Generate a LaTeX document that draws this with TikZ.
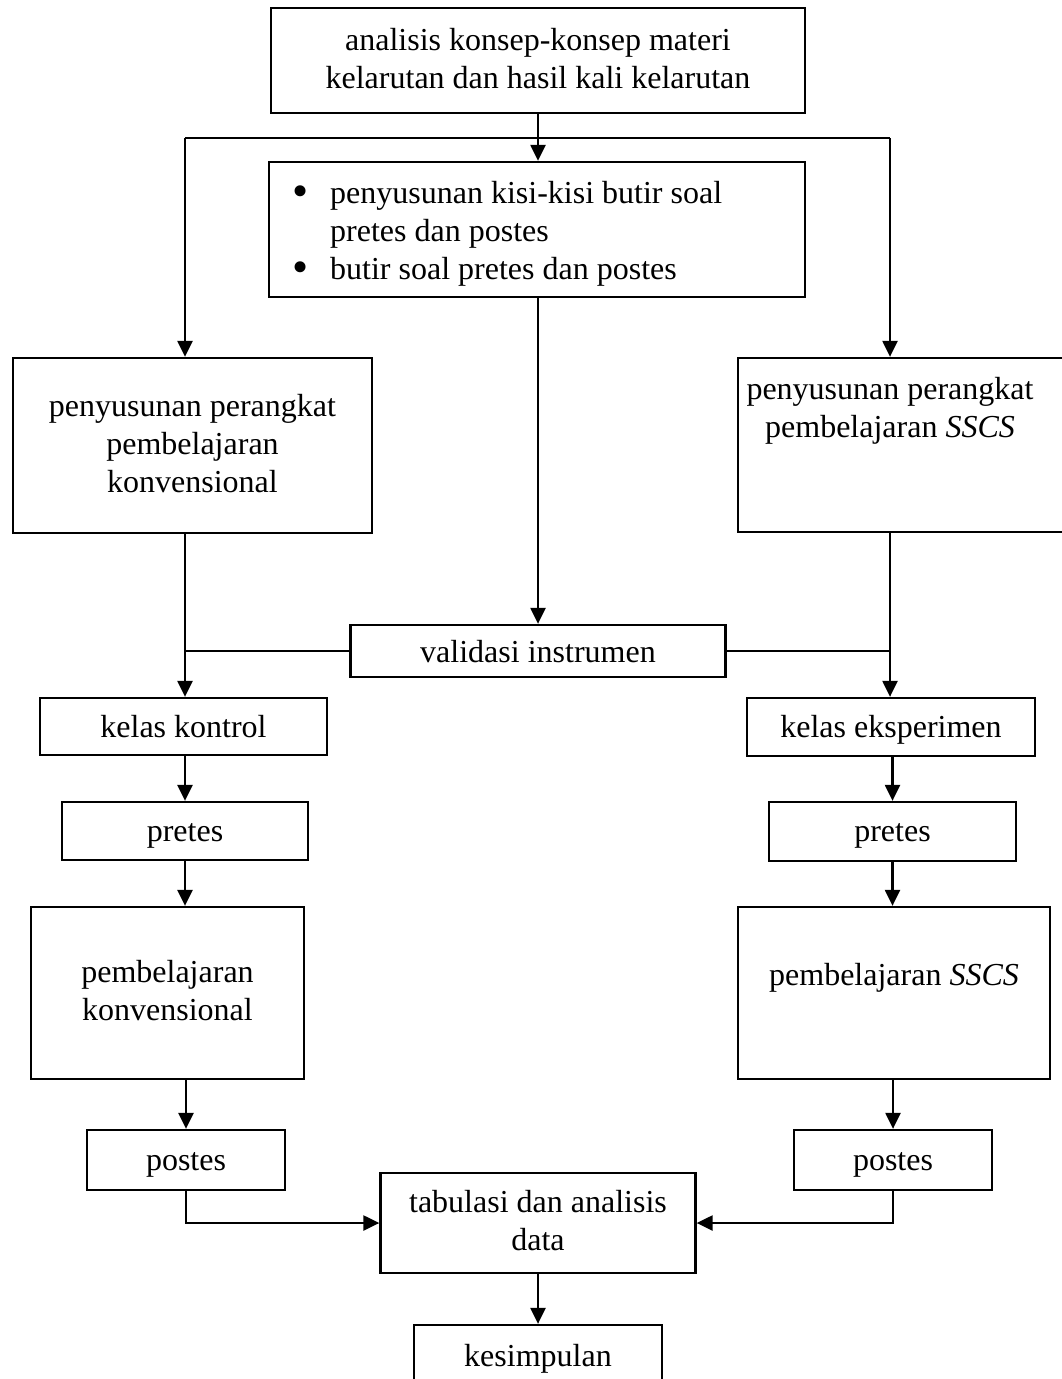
\documentclass[tikz,border=0pt]{standalone}
\usepackage{fontspec}
\setmainfont{Liberation Serif}
\usetikzlibrary{arrows.meta,calc}
\newcommand{\bigbul}{\makebox[38pt][l]{\fontsize{46}{38}\selectfont\raisebox{-3pt}{•}}}
\newcommand{\mystrut}{\rule[-5pt]{0pt}{32pt}}
\begin{document}
\begin{tikzpicture}[x=1pt,y=-1pt,
  box/.style={draw, line width=2.3pt, rectangle, inner sep=0pt},
  txt/.style={font=\fontsize{32}{38}\selectfont, align=center, inner sep=0pt,
    execute at begin node=\mystrut, execute at end node=\mystrut},
  conn/.style={line width=2.3pt},
  arr/.style={conn, -{Triangle[width=15pt,length=16pt]}}]
\useasboundingbox (0,0) rectangle (1062,1379);

% boxes
\node[box, txt, minimum width=534pt, minimum height=105pt] (top) at (538,60.5)
  {analisis konsep-konsep materi\\kelarutan dan hasil kali kelarutan};
\node[box, minimum width=536pt, minimum height=135pt] (kisi) at (537,229.5) {};
\node[txt, align=left, anchor=west] (kisit) at (292,234)
  {\bigbul penyusunan kisi-kisi butir soal\\\hspace*{38pt}pretes dan postes\\\bigbul butir soal pretes dan postes};
\node[box, txt, minimum width=359pt, minimum height=175pt] (perL) at (192.5,445.5)
  {penyusunan perangkat\\pembelajaran\\konvensional};
\node[box, minimum width=328pt, minimum height=174pt] (perR) at (902,445) {};
\node[txt] (perRt) at (890,411) {penyusunan perangkat\\pembelajaran \textit{SSCS}};
\node[box, txt, minimum width=375pt, minimum height=52pt] (val) at (538,651) {validasi instrumen};
\node[box, txt, minimum width=287pt, minimum height=57pt] (kon) at (183.5,726.5) {kelas kontrol};
\node[box, txt, minimum width=288pt, minimum height=58pt] (eks) at (891,727) {kelas eksperimen};
\node[box, txt, minimum width=246pt, minimum height=58pt] (preL) at (185,831) {pretes};
\node[box, txt, minimum width=247pt, minimum height=59pt] (preR) at (892.5,831.5) {pretes};
\node[box, txt, minimum width=273pt, minimum height=172pt] (pemL) at (167.5,993)
  {pembelajaran\\konvensional};
\node[box, minimum width=312pt, minimum height=172pt] (pemR) at (894,993) {};
\node[txt] (pemRt) at (894,975) {pembelajaran \textit{SSCS}};
\node[box, txt, minimum width=198pt, minimum height=60pt] (posL) at (186,1160) {postes};
\node[box, txt, minimum width=198pt, minimum height=60pt] (posR) at (893,1160) {postes};
\node[box, txt, minimum width=315pt, minimum height=100pt] (tab) at (538,1223)
  {tabulasi dan analisis\\data};
\node[box, minimum width=248pt, minimum height=62pt] (kes) at (538,1356) {};
\node[txt] (kest) at (538,1356) {kesimpulan};

% junctions
\coordinate (jL) at (185,138);
\coordinate (jR) at (890,138);
\coordinate (jM) at (538,138);

% connectors
\draw[conn] (jL) -- (jR);
\draw[arr] (top.south -| jM) -- (kisi.north -| jM);
\draw[arr] (jL) -- (perL.north -| jL);
\draw[arr] (jR) -- (perR.north -| jR);
\draw[arr] (kisi.south -| jM) -- (val.north -| jM);
\draw[arr] (perL.south -| jL) -- (kon.north -| jL);
\draw[arr] (perR.south -| jR) -- (eks.north -| jR);
\draw[conn] (val.west) -- (val.west -| jL);
\draw[conn] (val.east) -- (val.east -| jR);
\draw[arr] (kon.south -| preL.north) -- (preL.north);
\draw[arr] (preL.south) -- (preL.south |- pemL.north);
\draw[arr] (pemL.south -| posL.north) -- (posL.north);
\draw[arr] (eks.south -| preR.north) -- (preR.north);
\draw[arr] (preR.south) -- (preR.south |- pemR.north);
\draw[arr] (pemR.south -| posR.north) -- (posR.north);
\draw[arr] (posL.south) |- (tab.west);
\draw[arr] (posR.south) |- (tab.east);
\draw[arr] (tab.south) -- (kes.north);
\end{tikzpicture}
\end{document}
